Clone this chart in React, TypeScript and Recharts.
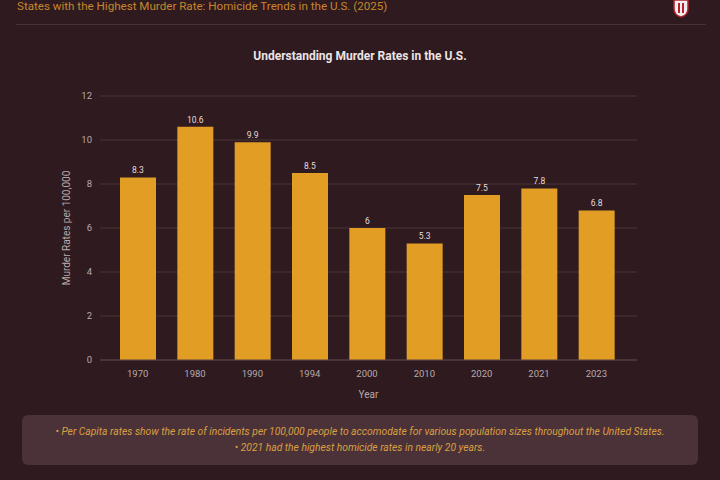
import React from "react";
import { BarChart, Bar, XAxis, YAxis, CartesianGrid, LabelList } from "recharts";

const YEARS = ["1970", "1980", "1990", "1994", "2000", "2010", "2020", "2021", "2023"];
const RATES = [8.3, 10.6, 9.9, 8.5, 6, 5.3, 7.5, 7.8, 6.8];
const Y_TICKS = [0, 2, 4, 6, 8, 10, 12];

const NOTES = [
  "Per Capita rates show the rate of incidents per 100,000 people to accomodate for various population sizes throughout the United States.",
  "2021 had the highest homicide rates in nearly 20 years.",
];

const BG = "#2e1a1f";
const BAR = "#e29d25";
const FONT = "Roboto, 'Noto Sans', sans-serif";

const chartData = YEARS.map((year, i) => ({ year, rate: RATES[i] }));

export default function App() {
  return (
    <div
      style={{
        position: "fixed",
        top: 0,
        left: 0,
        width: 720,
        height: 480,
        background: BG,
        overflow: "hidden",
        fontFamily: FONT,
      }}
    >
      {/* page header */}
      <div
        style={{
          position: "absolute",
          left: 17,
          top: 0,
          fontSize: 11.6,
          lineHeight: "13px",
          color: "#c8862c",
        }}
      >
        States with the Highest Murder Rate: Homicide Trends in the U.S. (2025)
      </div>
      <svg style={{ position: "absolute", left: 672, top: 0 }} width={18} height={18}>
        <path d="M2 0 H16 V9 Q16 15 9 17 Q2 15 2 9 Z" fill="#f2eeee" stroke="#b3222e" strokeWidth={1.5} />
        <rect x={6} y={3} width={2} height={10} fill="#b3222e" />
        <rect x={10} y={3} width={2} height={10} fill="#b3222e" />
      </svg>
      <div
        style={{
          position: "absolute",
          left: 16,
          top: 24,
          width: 690,
          height: 1,
          background: "#4a3136",
        }}
      />

      <div
        style={{
          position: "absolute",
          top: 49,
          width: 720,
          textAlign: "center",
          fontSize: 12,
          fontWeight: 700,
          color: "#ece4e4",
        }}
      >
        Understanding Murder Rates in the U.S.
      </div>

      <div style={{ position: "absolute", top: 0, left: 0 }}>
        <BarChart
          width={720}
          height={420}
          data={chartData}
          margin={{ top: 96, right: 83, bottom: 20, left: 37 }}
          barSize={36}
        >
          <CartesianGrid vertical={false} stroke="#4a3439" />
          <XAxis
            dataKey="year"
            height={40}
            padding={{ left: 9, right: 12 }}
            tickLine={false}
            tickMargin={4}
            stroke="#5a4246"
            tick={{ fill: "#b9aaab", fontSize: 9.5, fontFamily: FONT }}
            label={{
              value: "Year",
              position: "insideBottom",
              offset: 2,
              fill: "#b9aaab",
              fontSize: 10,
              fontFamily: FONT,
            }}
          />
          <YAxis
            width={63}
            domain={[0, 12]}
            ticks={Y_TICKS}
            axisLine={false}
            tickLine={false}
            tickSize={0}
            tickMargin={8}
            tick={{ fill: "#b9aaab", fontSize: 9.5, fontFamily: FONT }}
            label={{
              value: "Murder Rates per  100,000",
              angle: -90,
              position: "center",
              dx: -2,
              fill: "#b9aaab",
              fontSize: 10,
              fontFamily: FONT,
            }}
          />
          <Bar dataKey="rate" fill={BAR} isAnimationActive={false}>
            <LabelList
              dataKey="rate"
              position="top"
              offset={4}
              fill="#e6dcdc"
              fontSize={8.5}
              fontFamily={FONT}
            />
          </Bar>
        </BarChart>
      </div>

      <div
        style={{
          position: "absolute",
          left: 22,
          top: 415,
          width: 676,
          height: 50,
          borderRadius: 6,
          background: "#4b3239",
          boxSizing: "border-box",
          paddingTop: 9,
          textAlign: "center",
          fontSize: 10.3,
          lineHeight: "16px",
          fontStyle: "italic",
          color: "#d9a040",
        }}
      >
        {NOTES.map((n) => (
          <div key={n}>• {n}</div>
        ))}
      </div>
    </div>
  );
}
